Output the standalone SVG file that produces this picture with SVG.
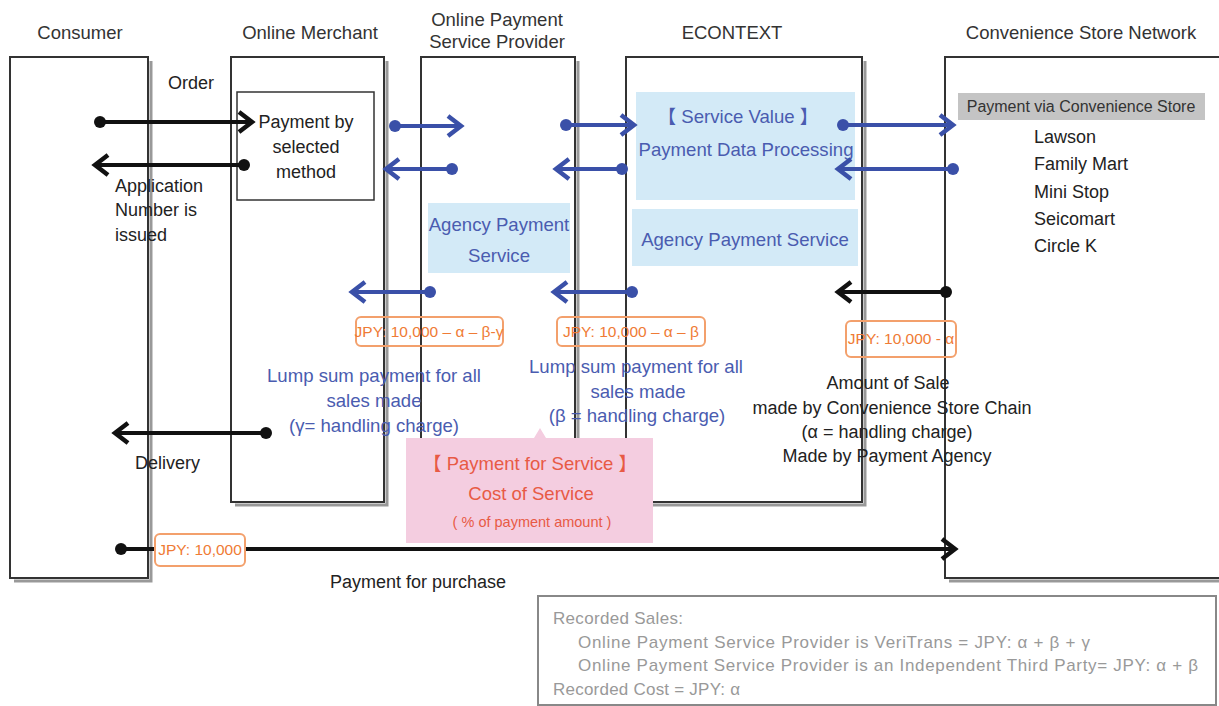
<svg xmlns="http://www.w3.org/2000/svg" width="1219" height="706" viewBox="0 0 1219 706">
<defs>
<style>
text{font-family:"Liberation Sans","Noto Sans CJK JP",sans-serif;}
.hd{font-size:18.5px;fill:#333;text-anchor:middle;}
.bk{font-size:18px;fill:#222;}
.bl{font-size:18.6px;fill:#4a5cb0;}
.or{font-size:15.5px;fill:#ef7b35;text-anchor:middle;}
.pk{fill:#e85a45;text-anchor:middle;}
.lg{font-size:17px;fill:#999;}
.mid{text-anchor:middle;}
.col{fill:none;stroke:#333;stroke-width:2;}
.sh{fill:none;stroke:#999;stroke-width:3;}
.lbox{fill:#d3eaf7;}
.obox{fill:none;stroke:#f3a06c;stroke-width:2;}
.cb{fill:none;stroke:#111;stroke-width:4;}
.cu{fill:none;stroke:#3a50a8;stroke-width:4;}
</style>
<marker id="ahk" markerUnits="userSpaceOnUse" viewBox="-16 -12 20 24" markerWidth="20" markerHeight="24" refX="0" refY="0" orient="auto"><path d="M-13,-10 L0,0 L-13,10" fill="none" stroke="#111" stroke-width="4.5"/></marker>
<marker id="ahu" markerUnits="userSpaceOnUse" viewBox="-16 -12 20 24" markerWidth="20" markerHeight="24" refX="0" refY="0" orient="auto"><path d="M-13,-10 L0,0 L-13,10" fill="none" stroke="#3a50a8" stroke-width="4.5"/></marker>
<marker id="dk" markerUnits="userSpaceOnUse" viewBox="-7 -7 14 14" markerWidth="14" markerHeight="14" refX="0" refY="0"><circle r="6" fill="#111"/></marker>
<marker id="du" markerUnits="userSpaceOnUse" viewBox="-7 -7 14 14" markerWidth="14" markerHeight="14" refX="0" refY="0"><circle r="6" fill="#3a50a8"/></marker>
</defs>
<rect width="1219" height="706" fill="#fff"/>

<g id="consumer">
<path class="sh" d="M151,61 V581 H14"/>
<rect class="col" x="10" y="57" width="138" height="521"/>
<text class="hd" x="80" y="39">Consumer</text>
<text class="bk" x="115" y="192">Application</text>
<text class="bk" x="115" y="216">Number is</text>
<text class="bk" x="115" y="241">issued</text>
<text class="bk" x="135" y="469">Delivery</text>
</g>

<g id="merchant">
<path class="sh" d="M387,61 V505 H235"/>
<rect class="col" x="231" y="57" width="153" height="445"/>
<text class="hd" x="310" y="39">Online Merchant</text>
<text class="bk" x="168" y="89">Order</text>
<rect x="237" y="92" width="137" height="108" fill="none" stroke="#333" stroke-width="1.5"/>
<text class="bk mid" x="306" y="128">Payment by</text>
<text class="bk mid" x="306" y="153">selected</text>
<text class="bk mid" x="306" y="178">method</text>
</g>

<g id="provider">
<path class="sh" d="M578,61 V505 H425"/>
<rect class="col" x="421" y="57" width="154" height="445"/>
<text class="hd" x="497" y="26">Online Payment</text>
<text class="hd" x="497" y="48">Service Provider</text>
<rect class="lbox" x="428" y="203" width="142" height="70"/>
<text class="bl mid" x="499" y="231">Agency Payment</text>
<text class="bl mid" x="499" y="262">Service</text>
</g>

<g id="econtext">
<path class="sh" d="M865,61 V505 H630"/>
<rect class="col" x="626" y="57" width="236" height="445"/>
<text class="hd" x="732" y="39">ECONTEXT</text>
<rect class="lbox" x="636" y="92" width="219" height="108"/>
<text class="bl mid" x="738" y="123">【 Service Value 】</text>
<text class="bl mid" x="746" y="156">Payment Data Processing</text>
<rect class="lbox" x="632" y="209" width="226" height="57"/>
<text class="bl mid" x="745" y="246">Agency Payment Service</text>
</g>

<g id="store">
<path class="sh" d="M1222,61 V581 H949"/>
<rect class="col" x="945" y="57" width="280" height="521"/>
<text class="hd" x="1081" y="39">Convenience Store Network</text>
<rect x="958" y="93" width="247" height="27" fill="#c4c4c4"/>
<text x="1081" y="112" class="mid" font-size="16" fill="#333">Payment via Convenience Store</text>
<text class="bk" x="1034" y="143" font-size="19">Lawson</text>
<text class="bk" x="1034" y="170" font-size="19">Family Mart</text>
<text class="bk" x="1034" y="198" font-size="19">Mini Stop</text>
<text class="bk" x="1034" y="225" font-size="19">Seicomart</text>
<text class="bk" x="1034" y="252" font-size="19">Circle K</text>
</g>

<g id="connectors">
<path class="cb" d="M100,122 H252" marker-start="url(#dk)" marker-end="url(#ahk)"/>
<path class="cb" d="M244,165 H95" marker-start="url(#dk)" marker-end="url(#ahk)"/>
<path class="cu" d="M395,126 H461" marker-start="url(#du)" marker-end="url(#ahu)"/>
<path class="cu" d="M452,169 H386" marker-start="url(#du)" marker-end="url(#ahu)"/>
<path class="cu" d="M566,125 H634" marker-start="url(#du)" marker-end="url(#ahu)"/>
<path class="cu" d="M622,169 H556" marker-start="url(#du)" marker-end="url(#ahu)"/>
<path class="cu" d="M843,125 H953" marker-start="url(#du)" marker-end="url(#ahu)"/>
<path class="cu" d="M953,169 H838" marker-start="url(#du)" marker-end="url(#ahu)"/>
<path class="cu" d="M430,292 H352" marker-start="url(#du)" marker-end="url(#ahu)"/>
<path class="cu" d="M632,292 H554" marker-start="url(#du)" marker-end="url(#ahu)"/>
<path class="cb" d="M946,292 H838" marker-start="url(#dk)" marker-end="url(#ahk)"/>
<path class="cb" d="M266,433 H115" marker-start="url(#dk)" marker-end="url(#ahk)"/>
<path class="cb" d="M121,549 H955" marker-start="url(#dk)" marker-end="url(#ahk)"/>
</g>

<g id="label-merchant">
<rect class="obox" x="356" y="317" width="147" height="29" rx="5"/>
<text class="or" x="429" y="337">JPY: 10,000 – α – β-γ</text>
<text class="bl mid" x="374" y="382">Lump sum payment for all</text>
<text class="bl mid" x="374" y="407">sales made</text>
<text class="bl mid" x="374" y="432">(γ= handling charge)</text>
</g>

<g id="label-provider">
<rect class="obox" x="557" y="317" width="148" height="29" rx="5"/>
<text class="or" x="631" y="337">JPY: 10,000 – α – β</text>
<text class="bl mid" x="636" y="373">Lump sum payment for all</text>
<text class="bl mid" x="638" y="398">sales made</text>
<text class="bl mid" x="637" y="422">(β = handling charge)</text>
</g>

<g id="label-econtext">
<rect class="obox" x="846" y="321" width="110" height="36" rx="5"/>
<text class="or" x="901" y="344">JPY: 10,000 - α</text>
<text class="bk mid" x="888" y="389">Amount of Sale</text>
<text class="bk mid" x="892" y="414">made by Convenience Store Chain</text>
<text class="bk mid" x="887" y="438">(α = handling charge)</text>
<text class="bk mid" x="887" y="462">Made by Payment Agency</text>
</g>

<g id="payment-for-service">
<path d="M406,438 H534 L540,428 L546,438 H653 V543 H406 Z" fill="#f4cde0"/>
<text class="pk" x="530" y="470" font-size="18.5">【 Payment for Service 】</text>
<text class="pk" x="531" y="500" font-size="18.5">Cost of Service</text>
<text class="pk" x="532" y="527" font-size="14.5">( % of payment amount )</text>
</g>

<g id="purchase">
<rect x="155" y="534" width="90" height="32" rx="5" fill="#fff" stroke="#f3a06c" stroke-width="2"/>
<text class="or" x="200" y="555">JPY: 10,000</text>
<text class="bk" x="330" y="588" font-size="18.5">Payment for purchase</text>
</g>

<g id="legend">
<rect x="538" y="596" width="678" height="109" fill="#fff" stroke="#888" stroke-width="2"/>
<text class="lg" x="553" y="624" textLength="130">Recorded Sales:</text>
<text class="lg" x="578" y="648" textLength="512">Online Payment Service Provider is VeriTrans = JPY: α + β + γ</text>
<text class="lg" x="578" y="671" textLength="620">Online Payment Service Provider is an Independent Third Party= JPY: α + β</text>
<text class="lg" x="553" y="695" textLength="187">Recorded Cost = JPY: α</text>
</g>
</svg>
